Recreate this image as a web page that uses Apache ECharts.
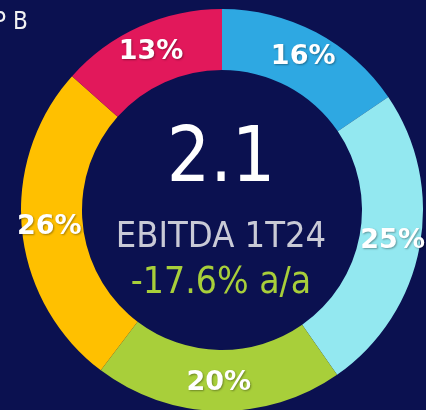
<!DOCTYPE html>
<html>
<head>
<meta charset="utf-8">
<script src="https://cdn.jsdelivr.net/npm/echarts@6/dist/echarts.min.js"></script>
<style>
    html, body { margin: 0; padding: 0; background: #0b1150; }
    #chart { width: 426px; height: 410px; }
</style>
</head>
<body>
<div id="chart"></div>
<script>
// segment shares, clockwise from 12 o'clock
var segNames = ['Azul', 'Cian', 'Verde', 'Amarillo', 'Rosa'];
var segValues = [15.5, 24.8, 20.0, 26.3, 13.4];
var segColors = ['#2ea8e2', '#93e8f0', '#a8cf3a', '#ffc000', '#e2185b'];

var bigValue = '2.1';
var subTitle = 'EBITDA 1T24';
var change = '-17.6% a/a';
var cornerText = 'P B';

var font = '"DejaVu Sans Condensed", "DejaVu Sans", sans-serif';
var labelFont = '"DejaVu Sans", sans-serif';

var chart = echarts.init(document.getElementById('chart'));

var pieData = segNames.map(function (n, i) {
    return { name: n, value: segValues[i], itemStyle: { color: segColors[i] } };
});

var option = {
    backgroundColor: '#0b1150',
    animation: false,
    graphic: [
        {
            type: 'text', left: -7, top: 11,
            style: { text: cornerText, fill: '#f2f2f2', font: '24px ' + font }
        },
        {
            type: 'text', x: 221, y: 161,
            style: { text: bigValue, fill: '#ffffff', font: '76px ' + font, textAlign: 'center', textVerticalAlign: 'middle' }
        },
        {
            type: 'text', x: 221, y: 238,
            style: { text: subTitle, fill: '#c9cad6', font: '36px ' + font, textAlign: 'center', textVerticalAlign: 'middle' }
        },
        {
            type: 'text', x: 221, y: 283,
            style: { text: change, fill: '#a8cf3a', font: '37px ' + font, textAlign: 'center', textVerticalAlign: 'middle' }
        }
    ],
    series: [
        {
            type: 'pie',
            center: [222, 210],
            radius: [140, 201],
            startAngle: 90,
            clockwise: true,
            avoidLabelOverlap: false,
            label: {
                show: true,
                position: 'inside',
                formatter: function (p) { return Math.round(p.value) + '%'; },
                color: '#ffffff',
                fontFamily: labelFont,
                fontWeight: 'bold',
                fontSize: 27,
                textShadowColor: 'rgba(0,0,0,0.35)',
                textShadowBlur: 2,
                textShadowOffsetX: 1,
                textShadowOffsetY: 1
            },
            labelLine: { show: false },
            itemStyle: { borderWidth: 0 },
            emphasis: { disabled: true },
            data: pieData
        }
    ]
};

chart.setOption(option);
</script>
</body>
</html>
